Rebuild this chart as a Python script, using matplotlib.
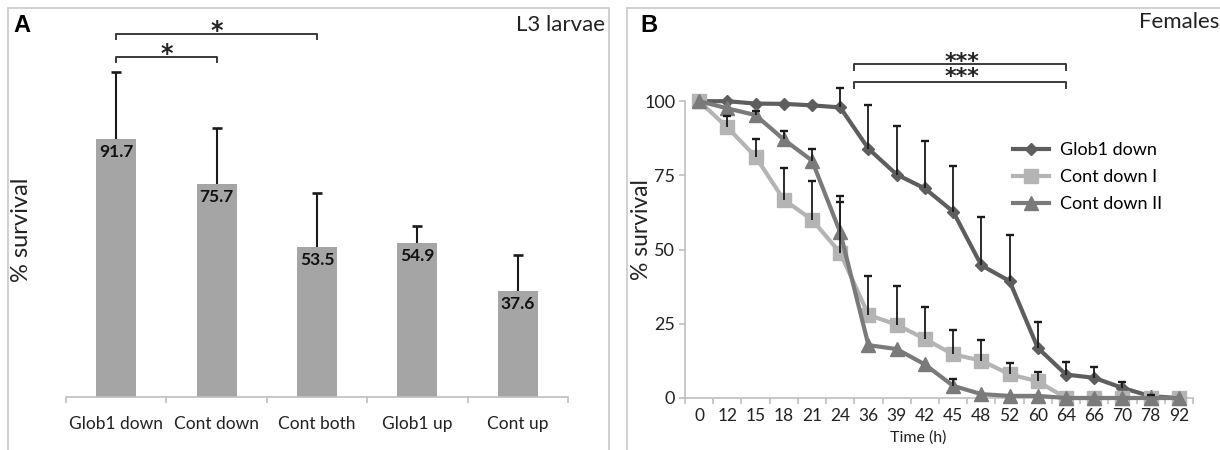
import numpy as np
import matplotlib
matplotlib.use('Agg')
import matplotlib.pyplot as plt
from matplotlib.patches import Rectangle

plt.rcParams['font.family'] = ['Lato', 'DejaVu Sans']

# panel A: L3 larvae survival
bar_labels = ['Glob1 down', 'Cont down', 'Cont both', 'Glob1 up', 'Cont up']
bar_means = [91.7, 75.7, 53.5, 54.9, 37.6]
bar_err = [24.0, 20.0, 19.1, 6.0, 12.9]

# panel B: females survival over time
times = ['0', '12', '15', '18', '21', '24', '36', '39', '42', '45', '48', '52', '60', '64', '66', '70', '78', '92']
glob1_down = [100, 100, 99.2, 99.1, 98.6, 97.9, 84.0, 75.3, 70.6, 62.8, 44.7, 39.4, 16.9, 7.9, 6.8, 3.4, 0.6, 0]
glob1_err = [0, 0, 0, 0, 0, 6.5, 14.7, 16.3, 16.0, 15.4, 16.3, 15.4, 8.8, 4.1, 3.7, 2.1, 0.5, 0]
cont1 = [100, 91.2, 81.3, 66.8, 60.1, 48.9, 28.0, 24.7, 19.9, 14.7, 12.6, 8.0, 5.6, 0, 0, 0, 0, 0]
cont1_err = [0, 3.7, 6.1, 10.7, 13.0, 17.0, 13.1, 13.0, 10.8, 8.2, 6.9, 3.9, 3.3, 0, 0, 0, 0, 0]
cont2 = [100, 97.6, 95.3, 87.1, 80.0, 55.8, 17.8, 16.5, 11.3, 4.1, 1.3, 0.7, 0.7, 0, 0, 0, 0, 0]
cont2_err = [0, 0, 1.3, 2.9, 3.8, 12.2, 0, 0, 0, 2.3, 0, 0, 0, 0, 0, 0, 0, 0]

W, H = 1220, 450
fig = plt.figure(figsize=(W / 100, H / 100), dpi=100)

def fx(px):
    return px / W

def fy(py):
    return 1 - py / H

def upper_bars(ax, xs, means, errs, cap_ms, lw):
    # error bars drawn upward only, as in the original figures
    xs = np.asarray(xs)
    means = np.asarray(means, dtype=float)
    errs = np.asarray(errs, dtype=float)
    keep = errs > 0
    tops = means[keep] + errs[keep]
    ax.vlines(xs[keep], means[keep], tops, color='#1a1a1a', lw=lw, zorder=4)
    ax.plot(xs[keep], tops, ls='none', marker='_', ms=cap_ms, mew=lw + 0.4,
            color='#1a1a1a', zorder=4, clip_on=False)

axis_grey = '#bfbfbf'
frame_grey = '#c8c8c8'
star_font = ['DejaVu Sans']

# panel frames
fig.add_artist(Rectangle((fx(8), -0.1), fx(609 - 8), fy(8) + 0.1, transform=fig.transFigure,
                         fill=False, edgecolor=frame_grey, lw=1.2))
fig.add_artist(Rectangle((fx(627), -0.1), fx(700), fy(8) + 0.1, transform=fig.transFigure,
                         fill=False, edgecolor=frame_grey, lw=1.2))

# ---- panel A ----
axA = fig.add_axes([fx(66), 1 - 397 / H, fx(502), 393.4 / H])
x = np.arange(len(bar_labels))
axA.bar(x, bar_means, width=0.4, color='#a5a5a5', zorder=2)
upper_bars(axA, x, bar_means, bar_err, cap_ms=7, lw=1.5)
for i, v in enumerate(bar_means):
    axA.text(i, v - 4.6, f'{v}', ha='center', va='center', fontsize=12.5,
             fontweight='bold', color='#111111', zorder=4)
axA.set_xlim(-0.5, 4.5)
axA.set_ylim(0, 140)
axA.set_xticks(x)
axA.set_xticklabels(bar_labels, fontsize=12.5, color='#222222')
axA.set_xticks(np.arange(-0.5, 5, 1), minor=True)
axA.tick_params(axis='x', which='major', length=0, pad=14)
axA.tick_params(axis='x', which='minor', length=4, color=axis_grey, width=1.2)
axA.set_yticks([])
for s in ['top', 'right', 'left']:
    axA.spines[s].set_visible(False)
axA.spines['bottom'].set_color(axis_grey)
axA.spines['bottom'].set_linewidth(1.2)

# significance brackets
br = '#3a3a3a'
axA.plot([0, 0, 2, 2], [127.3, 129.2, 129.2, 127.3], color=br, lw=1.4, clip_on=False)
axA.plot([0, 0, 1, 1], [119.2, 121.1, 121.1, 119.2], color=br, lw=1.4, clip_on=False)
axA.text(1.0, 130.3, '*', ha='center', va='center', fontsize=17, fontweight='bold',
         color='#222222', family=star_font)
axA.text(0.5, 122.2, '*', ha='center', va='center', fontsize=17, fontweight='bold',
         color='#222222', family=star_font)

fig.text(fx(22), fy(230), '% survival', rotation=90, ha='center', va='center', fontsize=17, color='#222222')
fig.text(fx(13), fy(26), 'A', ha='left', va='center', fontsize=17, fontweight='bold',
         family=['Liberation Sans', 'DejaVu Sans'])
fig.text(fx(605), fy(25), 'L3 larvae', ha='right', va='center', fontsize=16, color='#222222')

# ---- panel B ----
axB = fig.add_axes([fx(685), 1 - 398 / H, fx(508), 371 / H])
xt = np.arange(len(times))
series = [
    ('Glob1 down', glob1_down, glob1_err, '#5e5e5e', 'D', 6.5),
    ('Cont down I', cont1, cont1_err, '#b4b4b4', 's', 9.5),
    ('Cont down II', cont2, cont2_err, '#7a7a7a', '^', 10),
]
for name, vals, err, col, mk, ms in series:
    axB.plot(xt, vals, color=col, lw=3, marker=mk, markersize=ms, markeredgecolor=col,
             label=name, zorder=3, clip_on=False)
for name, vals, err, col, mk, ms in series:
    upper_bars(axB, xt, vals, err, cap_ms=6, lw=1.3)

axB.set_xlim(-0.5, len(times) - 0.5)
axB.set_ylim(0, 125)
axB.set_yticks([0, 25, 50, 75, 100])
axB.tick_params(axis='y', length=4, color=axis_grey, width=1.2, labelsize=13, labelcolor='#222222', pad=3)
axB.set_xticks(xt)
axB.set_xticklabels(times, fontsize=12.5, color='#222222')
axB.set_xticks(np.arange(-0.5, len(times), 1), minor=True)
axB.tick_params(axis='x', which='major', length=0, pad=7)
axB.tick_params(axis='x', which='minor', length=4, color=axis_grey, width=1.2)
for s in ['top', 'right']:
    axB.spines[s].set_visible(False)
axB.spines['left'].set_bounds(0, 100)
for s in ['left', 'bottom']:
    axB.spines[s].set_color(axis_grey)
    axB.spines[s].set_linewidth(1.2)

axB.plot([5.5, 5.5, 13.0, 13.0], [110.6, 112.5, 112.5, 110.6], color=br, lw=1.4, clip_on=False)
axB.plot([5.5, 5.5, 13.0, 13.0], [104.5, 106.4, 106.4, 104.5], color=br, lw=1.4, clip_on=False)
axB.text(9.3, 110.6, '***\n***', ha='center', va='center', fontsize=16, linespacing=0.7,
         fontweight='bold', color='#222222', family=star_font)

axB.legend(loc='upper left', bbox_to_anchor=(fx(997), fy(126)), bbox_transform=fig.transFigure,
           frameon=False, fontsize=13, handlelength=2.0, labelspacing=0.6, handletextpad=0.6)

fig.text(fx(641), fy(230), '% survival', rotation=90, ha='center', va='center', fontsize=16.5, color='#222222')
fig.text(fx(918), fy(438), 'Time (h)', ha='center', va='center', fontsize=11.5, color='#222222')
fig.text(fx(640), fy(26), 'B', ha='left', va='center', fontsize=17, fontweight='bold',
         family=['Liberation Sans', 'DejaVu Sans'])
fig.text(fx(1219), fy(22), 'Females', ha='right', va='center', fontsize=16, color='#222222')

fig.savefig('out.png', dpi=100)
